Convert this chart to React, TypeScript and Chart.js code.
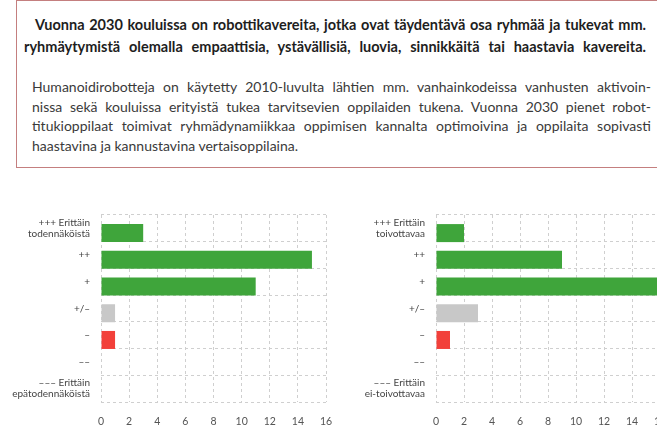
import React, { useEffect, useRef } from 'react';
import { Chart, registerables } from 'chart.js';

Chart.register(...registerables);

const leftCategories: (string | string[])[] = [
  ['+++ Erittäin', 'todennäköistä'],
  '++',
  '+',
  '+/–',
  '–',
  '––',
  ['––– Erittäin', 'epätodennäköistä'],
];
const leftValues = [3, 15, 11, 1, 1, 0, 0];

const rightCategories: (string | string[])[] = [
  ['+++ Erittäin', 'toivottavaa'],
  '++',
  '+',
  '+/–',
  '–',
  '––',
  ['––– Erittäin', 'ei-toivottavaa'],
];
const rightValues = [2, 9, 16, 3, 1, 0, 0];

const barColors = ['#3fa53b', '#3fa53b', '#3fa53b', '#c8c8c8', '#f2403a', '#f2403a', '#f2403a'];

const xMin = 0;
const xMax = 16;
const xStep = 2;

const titleLines = [
  'Vuonna 2030 kouluissa on robottikavereita, jotka ovat täydentävä osa ryhmää ja tukevat mm.',
  'ryhmäytymistä olemalla empaattisia, ystävällisiä, luovia, sinnikkäitä tai haastavia kavereita.',
];
const paragraphLines = [
  'Humanoidirobotteja on käytetty 2010-luvulta lähtien mm. vanhainkodeissa vanhusten aktivoin-',
  'nissa sekä kouluissa erityistä tukea tarvitsevien oppilaiden tukena. Vuonna 2030 pienet robot-',
  'titukioppilaat toimivat ryhmädynamiikkaa oppimisen kannalta optimoivina ja oppilaita sopivasti',
  'haastavina ja kannustavina vertaisoppilaina.',
];

const FONT = 'Lato, "Open Sans", "DejaVu Sans", sans-serif';

interface BarProps {
  labels: (string | string[])[];
  values: number[];
  left: number;
  width: number;
  yAxisWidth: number;
  padRight: number;
}

const zeroPad = (s: any) => {
  s.paddingLeft = 0;
  s.paddingRight = 0;
  s.paddingTop = 0;
  s.paddingBottom = 0;
};

function BarChart({ labels, values, left, width, yAxisWidth, padRight }: BarProps) {
  const ref = useRef<HTMLCanvasElement | null>(null);
  useEffect(() => {
    if (!ref.current) return;
    const gridColor = '#cfcfcf';
    const chart = new Chart(ref.current, {
      type: 'bar',
      data: {
        labels,
        datasets: [
          {
            data: labels.map(() => null),
            backgroundColor: 'rgba(0,0,0,0)',
          },
          {
            data: values,
            backgroundColor: barColors,
            borderWidth: 0,
          },
        ],
      },
      options: {
        indexAxis: 'y',
        responsive: false,
        maintainAspectRatio: false,
        animation: false,
        datasets: {
          bar: {
            categoryPercentage: 0.71,
            barPercentage: 1.9,
          },
        },
        layout: { padding: { top: 10, right: padRight, left: 0, bottom: 0 } },
        plugins: {
          legend: { display: false },
          tooltip: { enabled: false },
        },
        scales: {
          x: {
            min: xMin,
            max: xMax,
            ticks: {
              stepSize: xStep,
              color: '#555',
              font: { family: FONT, size: 10.5 },
              padding: 13,
            },
            grid: { color: gridColor, drawTicks: false, lineWidth: 1 },
            border: { display: false, dash: [3, 3] },
            afterFit: (s: any) => {
              s.height = 31;
              zeroPad(s);
            },
          },
          y: {
            ticks: {
              color: '#444',
              font: { family: FONT, size: 10, lineHeight: 1.1 },
              padding: 11,
            },
            grid: { color: gridColor, drawTicks: false, offset: true, lineWidth: 1 },
            border: { display: false, dash: [3, 3] },
            afterFit: (s: any) => {
              s.width = yAxisWidth;
              zeroPad(s);
            },
          },
        },
      } as any,
    });
    return () => chart.destroy();
  }, [labels, values, yAxisWidth, padRight]);
  return (
    <canvas
      ref={ref}
      width={width}
      height={228}
      style={{ position: 'absolute', left, top: 205, width, height: 228 }}
    />
  );
}

export default function App() {
  useEffect(() => {
    document.body.style.margin = '0';
    document.body.style.overflow = 'hidden';
  }, []);
  return (
    <div
      style={{
        position: 'relative',
        width: 657,
        height: 433,
        overflow: 'hidden',
        background: '#fff',
        fontFamily: FONT,
      }}
    >
      <div
        style={{
          position: 'absolute',
          left: 16,
          top: 0,
          width: 660,
          height: 168,
          border: '1px solid #c47f7f',
          boxSizing: 'border-box',
        }}
      />
      <div
        style={{
          position: 'absolute',
          left: 24,
          top: 14,
          width: 622,
          fontWeight: 700,
          fontSize: 14.5,
          lineHeight: '22px',
          color: '#1e1e1e',
        }}
      >
        <div style={{ paddingLeft: 11, textAlign: 'justify', textAlignLast: 'justify', whiteSpace: 'nowrap' }}>
          {titleLines[0]}
        </div>
        <div style={{ textAlign: 'justify', textAlignLast: 'justify', whiteSpace: 'nowrap' }}>{titleLines[1]}</div>
      </div>
      <div
        style={{
          position: 'absolute',
          left: 32,
          top: 77,
          width: 619,
          fontSize: 14,
          lineHeight: '19.5px',
          color: '#3a3a3a',
        }}
      >
        {paragraphLines.map((l, i) => (
          <div
            key={i}
            style={{
              textAlign: 'justify',
              textAlignLast: i < paragraphLines.length - 1 ? 'justify' : 'left',
              whiteSpace: 'nowrap',
            }}
          >
            {l}
          </div>
        ))}
      </div>
      <BarChart labels={leftCategories} values={leftValues} left={8} width={330} yAxisWidth={93} padRight={12} />
      <BarChart labels={rightCategories} values={rightValues} left={330} width={336} yAxisWidth={106} padRight={6} />
    </div>
  );
}
